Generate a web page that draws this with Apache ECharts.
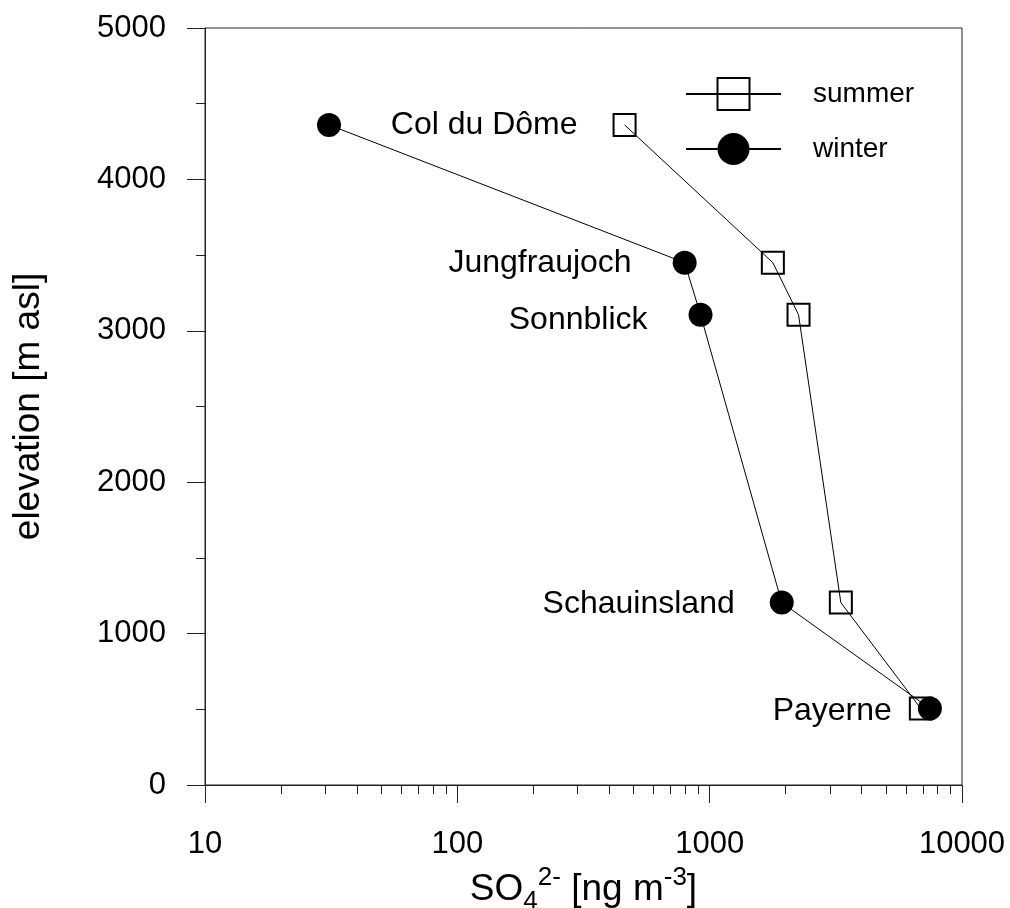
<!DOCTYPE html>
<html>
<head>
<meta charset="utf-8">
<script src="https://cdn.jsdelivr.net/npm/echarts@6/dist/echarts.min.js"></script>
<style>html,body{margin:0;padding:0;background:#fff;}#c{width:1010px;height:908px;}</style>
</head>
<body>
<div id="c"></div>
<script>
const stations = ['Col du Dôme', 'Jungfraujoch', 'Sonnblick', 'Schauinsland', 'Payerne'];
const elevation = [4360, 3450, 3106, 1205, 505];
const summerSO4 = [460, 1780, 2250, 3310, 6870];
const winterSO4 = [31, 796, 920, 1930, 7460];
const xMinorTicks = [20,30,40,50,60,70,80,90,200,300,400,500,600,700,800,900,2000,3000,4000,5000,6000,7000,8000,9000];

// label placement (which series carries the name, gap to the marker, vertical nudge)
const labelLayout = {
  'Col du Dôme':  { on: 's', dist: 35, dy: 0 },
  'Jungfraujoch': { on: 'w', dist: 41, dy: 1 },
  'Sonnblick':    { on: 'w', dist: 41, dy: 5 },
  'Schauinsland': { on: 'w', dist: 35, dy: 2 },
  'Payerne':      { on: 's', dist: 17, dy: 3 }
};

const FONT = '"Liberation Sans", Arial, sans-serif';

function build(vals, key) {
  return vals.map((v, i) => {
    const item = { value: [v, elevation[i]] };
    const L = labelLayout[stations[i]];
    if (L.on === key) {
      item.label = { show: true, position: 'left', distance: L.dist, offset: [0, L.dy], formatter: stations[i],
        color: '#000', fontSize: 32, fontFamily: FONT };
    }
    return item;
  });
}

const chart = echarts.init(document.getElementById('c'), null, { renderer: 'canvas' });
chart.setOption({
  animation: false,
  backgroundColor: '#fff',
  grid: { left: 205, right: 48, top: 28, bottom: 123, containLabel: false, outerBoundsMode: 'none',
    show: true, borderColor: '#222', borderWidth: 1, backgroundColor: 'transparent' },
  legend: {
    orient: 'vertical', left: 680, top: 72,
    itemWidth: 95, itemHeight: 40, itemGap: 22,
    textStyle: { fontSize: 28, fontFamily: FONT, color: '#000', padding: [0, 0, 0, 27] },
    data: ['summer', 'winter']
  },
  xAxis: [{
    type: 'log', logBase: 10, min: 10, max: 10000,
    position: 'bottom',
    axisLine: { show: true, lineStyle: { color: '#222', width: 1 } },
    axisTick: { show: true, length: 18, lineStyle: { color: '#222' } },
    axisLabel: { fontSize: 31, fontFamily: FONT, color: '#000', margin: 44, formatter: v => String(v) },
    splitLine: { show: false },
    name: 'SO{sub|4}{sup|2-} [ng m{sup|-3}]',
    nameLocation: 'middle', nameGap: 72,
    nameTextStyle: {
      fontSize: 37, fontFamily: FONT, color: '#000', lineHeight: 50,
      rich: {
        sub: { fontSize: 26, fontFamily: FONT, color: '#000', verticalAlign: 'bottom', lineHeight: 26 },
        sup: { fontSize: 26, fontFamily: FONT, color: '#000', verticalAlign: 'top', lineHeight: 26 }
      }
    }
  }, {
    type: 'log', logBase: 10, min: 10, max: 10000,
    position: 'bottom', gridIndex: 0,
    axisLine: { show: false },
    axisTick: { show: true, length: 9, lineStyle: { color: '#222' }, customValues: xMinorTicks },
    axisLabel: { show: false },
    splitLine: { show: false }
  }],
  yAxis: {
    type: 'value', min: 0, max: 5000, interval: 1000,
    axisLine: { show: true, lineStyle: { color: '#222', width: 1 } },
    axisTick: { show: true, length: 18, lineStyle: { color: '#222' } },
    minorTick: { show: true, splitNumber: 2, length: 9, lineStyle: { color: '#222' } },
    axisLabel: { fontSize: 31, fontFamily: FONT, color: '#000', margin: 39, formatter: v => String(v) },
    splitLine: { show: false },
    name: 'elevation [m asl]', nameLocation: 'middle', nameGap: 158,
    nameTextStyle: { fontSize: 37, fontFamily: FONT, color: '#000' }
  },
  series: [{
    name: 'summer', type: 'line', xAxisIndex: 0,
    symbol: 'rect', symbolSize: 22,
    lineStyle: { color: '#000', width: 1 },
    itemStyle: { color: 'rgba(255,255,255,0)', borderColor: '#000', borderWidth: 2 },
    data: build(summerSO4, 's'), z: 3
  }, {
    name: 'winter', type: 'line', xAxisIndex: 0,
    symbol: 'circle', symbolSize: 24,
    lineStyle: { color: '#000', width: 1 },
    itemStyle: { color: '#000', borderColor: '#000', borderWidth: 0 },
    data: build(winterSO4, 'w'), z: 2
  }]
});
</script>
</body>
</html>
